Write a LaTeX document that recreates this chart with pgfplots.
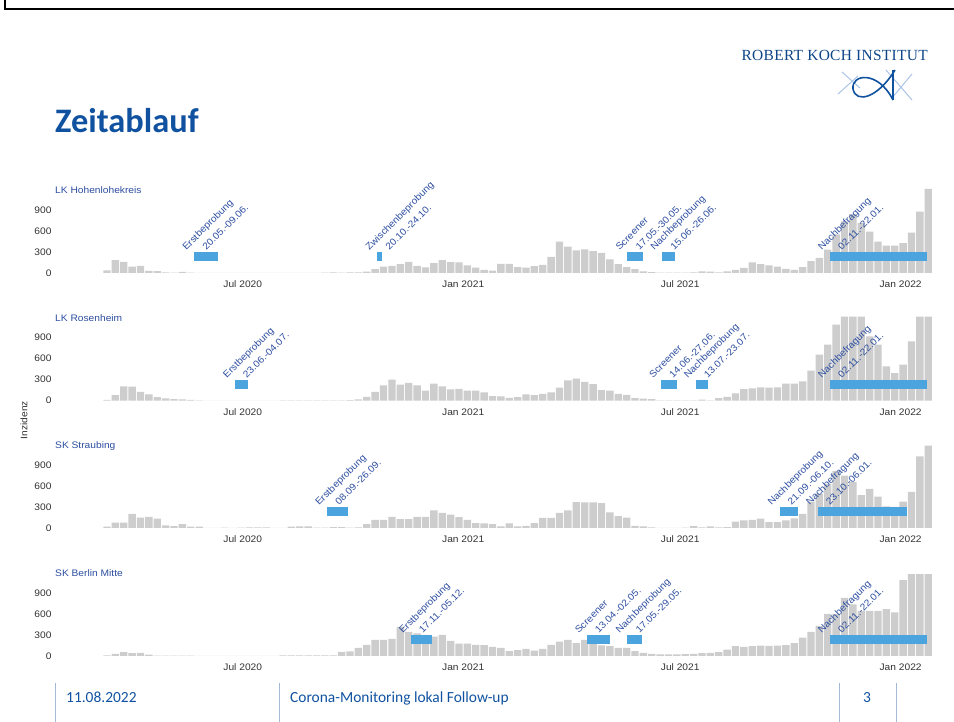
\documentclass[border=0pt]{standalone}
\usepackage{pgfplots}
\pgfplotsset{compat=1.18}
\usepackage{fontspec}
\setmainfont{Liberation Sans}
\newfontfamily\chartfont[FakeStretch=1.08]{Liberation Sans}
\newfontfamily\calibri{Carlito}
\newfontfamily\rkifont[LetterSpace=2.0]{Liberation Serif}

\definecolor{rkiblue}{RGB}{16,82,160}
\definecolor{labblue}{RGB}{45,78,160}
\definecolor{barc}{RGB}{205,205,205}
\definecolor{boxc}{RGB}{76,164,222}
\definecolor{tickc}{RGB}{50,50,50}
\definecolor{footline}{RGB}{165,185,215}
\definecolor{logolight}{RGB}{170,195,230}

\newcommand\cf{\chartfont\fontsize{9.5}{10}\selectfont}

\pgfplotsset{panel/.style={
    scale only axis, width=885.8bp, height=84bp, anchor=origin,
    xmin=-6.2, xmax=99.5, ymin=0, ymax=1200, clip=false,
    axis line style={draw=none}, tick style={draw=none},
    ytick={0,300,600,900},
    xtick={16.2,42.5,68.4,94.7},
    xticklabels={Jul 2020,Jan 2021,Jul 2021,Jan 2022},
    ticklabel style={font=\cf, text=tickc},
    /pgf/number format/assume math mode=true,
    ybar, bar width=0.88,
  },
  bars/.style={fill=barc, draw=none},
}
\tikzset{
  lbl/.style={rotate=45, anchor=base west, inner sep=0pt, font=\cf, text=labblue},
  box/.style={fill=boxc, draw=none},
}
% two-line rotated label at the top left corner of a blue box
\newcommand\lab[3]{%
  \node[lbl] at ([xshift=-8bp,yshift=1bp]axis cs:#1,300) {#2};
  \node[lbl] at ([xshift=12bp,yshift=1bp]axis cs:#1,300) {#3};}

\begin{document}
\begin{tikzpicture}[x=1bp,y=1bp]
\path[use as bounding box] (0,0) rectangle (954,722);
\draw[line width=2bp] (5,722) -- (5,713) -- (954,713);

% header
\node[anchor=base west, inner sep=0pt, text=rkiblue,
  font=\calibri\bfseries\fontsize{34.5}{35}\selectfont] at (55,589) {Zeitablauf};
\node[anchor=base east, inner sep=0pt, text=rkiblue!85!black,
  font=\rkifont\fontsize{15.5}{16}\selectfont] at (928,661) {ROBERT KOCH INSTITUT};
\draw[logolight, line width=1bp] (838,628) -- (858,646) (842,650) -- (860,634)
  (886,652) -- (912,622) (892,624) -- (912,648);
\draw[rkiblue, line width=1.6bp] (895,652) .. controls (878,624) and (856,618) .. (853,633)
  .. controls (851,648) and (878,652) .. (893,622);
\draw[rkiblue, line width=1.2bp] (893,652) -- (893,622);

% panel 1
\begin{axis}[panel, at={(107bp,449bp)}]
\addplot[bars] coordinates {
(0,37) (1,185) (2,160) (3,92) (4,100) (5,30) (6,28) (7,10) (8,5) (9,15)
(10,5) (11,2) (12,0) (13,0) (14,0) (15,0) (16,0) (17,0) (18,0) (19,0)
(20,0) (21,3) (22,3) (23,3) (24,3) (25,3) (26,5) (27,8) (28,5) (29,8)
(30,10) (31,20) (32,55) (33,92) (34,100) (35,125) (36,160) (37,100) (38,80) (39,140)
(40,185) (41,155) (42,150) (43,110) (44,75) (45,46) (46,32) (47,130) (48,130) (49,83)
(50,78) (51,97) (52,115) (53,230) (54,448) (55,378) (56,323) (57,337) (58,314) (59,286)
(60,194) (61,125) (62,83) (63,55) (64,23) (65,14) (66,5) (67,5) (68,5) (69,5)
(70,10) (71,23) (72,20) (73,9) (74,23) (75,46) (76,74) (77,152) (78,128) (79,110)
(80,92) (81,60) (82,46) (83,83) (84,170) (85,217) (86,332) (87,553) (88,738) (89,840)
(90,715) (91,590) (92,448) (93,392) (94,392) (95,425) (96,577) (97,877) (98,1200)};
\fill[box] (axis cs:10.4,170) rectangle (axis cs:13.25,300);
\fill[box] (axis cs:32.25,170) rectangle (axis cs:32.85,300);
\fill[box] (axis cs:62.1,170) rectangle (axis cs:64.0,300);
\fill[box] (axis cs:66.25,170) rectangle (axis cs:67.8,300);
\fill[box] (axis cs:86.25,170) rectangle (axis cs:97.8,300);
\lab{10.4}{Erstbeprobung}{20.05.-09.06.}
\lab{32.25}{Zwischenbeprobung}{20.10.-24.10.}
\lab{62.1}{Screener}{17.05.-30.05.}
\lab{66.25}{Nachbeprobung}{15.06.-26.06.}
\lab{86.25}{Nachbefragung}{02.11.-22.01.}
\end{axis}

% panel 2
\begin{axis}[panel, at={(107bp,321.3bp)}]
\addplot[bars] coordinates {
(0,10) (1,78) (2,203) (3,200) (4,125) (5,92) (6,50) (7,32) (8,23) (9,18)
(10,10) (11,5) (12,0) (13,0) (14,0) (15,0) (16,0) (17,0) (18,0) (19,0)
(20,0) (21,3) (22,3) (23,3) (24,3) (25,3) (26,3) (27,5) (28,5) (29,8)
(30,18) (31,55) (32,125) (33,217) (34,300) (35,230) (36,253) (37,217) (38,143) (39,245)
(40,203) (41,162) (42,170) (43,143) (44,143) (45,118) (46,65) (47,60) (48,42) (49,51)
(50,92) (51,78) (52,97) (53,120) (54,185) (55,290) (56,314) (57,268) (58,235) (59,152)
(60,143) (61,97) (62,83) (63,37) (64,28) (65,23) (66,5) (67,5) (68,5) (69,5)
(70,5) (71,14) (72,5) (73,37) (74,55) (75,106) (76,166) (77,175) (78,190) (79,185)
(80,190) (81,245) (82,243) (83,276) (84,428) (85,657) (86,800) (87,1085) (88,1200) (89,1200)
(90,1200) (91,920) (92,800) (93,490) (94,395) (95,514) (96,848) (97,1200) (98,1200)};
\fill[box] (axis cs:15.25,170) rectangle (axis cs:16.8,300);
\fill[box] (axis cs:66.1,170) rectangle (axis cs:68.0,300);
\fill[box] (axis cs:70.25,170) rectangle (axis cs:71.7,300);
\fill[box] (axis cs:86.25,170) rectangle (axis cs:97.8,300);
\lab{15.25}{Erstbeprobung}{23.06.-04.07.}
\lab{66.1}{Screener}{14.06.-27.06.}
\lab{70.25}{Nachbeprobung}{13.07.-23.07.}
\lab{86.25}{Nachbefragung}{02.11.-22.01.}
\end{axis}

% panel 3
\begin{axis}[panel, at={(107bp,194bp)}]
\addplot[bars] coordinates {
(0,18) (1,78) (2,78) (3,203) (4,148) (5,160) (6,134) (7,37) (8,28) (9,55)
(10,18) (11,18) (12,0) (13,0) (14,5) (15,0) (16,5) (17,8) (18,8) (19,8)
(20,3) (21,3) (22,18) (23,22) (24,22) (25,5) (26,5) (27,12) (28,12) (29,5)
(30,10) (31,55) (32,115) (33,115) (34,160) (35,125) (36,125) (37,160) (38,160) (39,250)
(40,217) (41,190) (42,157) (43,115) (44,70) (45,65) (46,55) (47,23) (48,65) (49,23)
(50,32) (51,70) (52,143) (53,143) (54,217) (55,250) (56,370) (57,365) (58,365) (59,355)
(60,222) (61,170) (62,148) (63,32) (64,23) (65,8) (66,3) (67,3) (68,3) (69,5)
(70,28) (71,10) (72,23) (73,10) (74,12) (75,92) (76,110) (77,115) (78,134) (79,83)
(80,83) (81,110) (82,138) (83,203) (84,378) (85,490) (86,630) (87,815) (88,748) (89,655)
(90,470) (91,560) (92,447) (93,310) (94,300) (95,378) (96,515) (97,1023) (98,1177)};
\fill[box] (axis cs:26.25,170) rectangle (axis cs:28.8,300);
\fill[box] (axis cs:80.25,170) rectangle (axis cs:82.4,300);
\fill[box] (axis cs:84.8,170) rectangle (axis cs:95.5,300);
\lab{26.25}{Erstbeprobung}{08.09.-26.09.}
\lab{80.25}{Nachbeprobung}{21.09.-06.10.}
\lab{84.8}{Nachbefragung}{23.10.-06.01.}
\end{axis}

% panel 4
\begin{axis}[panel, at={(107bp,66bp)}]
\addplot[bars] coordinates {
(0,9) (1,32) (2,55) (3,42) (4,46) (5,18) (6,5) (7,5) (8,5) (9,5)
(10,5) (11,3) (12,3) (13,3) (14,3) (15,3) (16,3) (17,3) (18,3) (19,3)
(20,3) (21,8) (22,8) (23,8) (24,8) (25,8) (26,8) (27,8) (28,60) (29,65)
(30,115) (31,160) (32,230) (33,230) (34,245) (35,415) (36,346) (37,323) (38,300) (39,277)
(40,300) (41,217) (42,175) (43,175) (44,160) (45,155) (46,130) (47,115) (48,70) (49,83)
(50,100) (51,78) (52,100) (53,160) (54,207) (55,230) (56,185) (57,230) (58,175) (59,150)
(60,140) (61,115) (62,115) (63,70) (64,46) (65,32) (66,23) (67,23) (68,23) (69,28)
(70,32) (71,42) (72,46) (73,55) (74,92) (75,140) (76,130) (77,140) (78,148) (79,143)
(80,148) (81,157) (82,185) (83,263) (84,346) (85,430) (86,600) (87,600) (88,830) (89,738)
(90,645) (91,645) (92,645) (93,670) (94,622) (95,1085) (96,1170) (97,1170) (98,1170)};
\fill[box] (axis cs:36.25,170) rectangle (axis cs:38.8,300);
\fill[box] (axis cs:57.25,170) rectangle (axis cs:60.0,300);
\fill[box] (axis cs:62.1,170) rectangle (axis cs:63.8,300);
\fill[box] (axis cs:86.25,170) rectangle (axis cs:97.8,300);
\lab{36.25}{Erstbeprobung}{17.11.-05.12.}
\lab{57.25}{Screener}{13.04.-02.05.}
\lab{62.1}{Nachbeprobung}{17.05.-29.05.}
\lab{86.25}{Nachbefragung}{02.11.-22.01.}
\end{axis}

% panel titles and y label
\node[anchor=base west, inner sep=0pt, font=\cf, text=labblue] at (55,528) {LK Hohenlohekreis};
\node[anchor=base west, inner sep=0pt, font=\cf, text=labblue] at (55,400) {LK Rosenheim};
\node[anchor=base west, inner sep=0pt, font=\cf, text=labblue] at (55,273) {SK Straubing};
\node[anchor=base west, inner sep=0pt, font=\cf, text=labblue] at (55,145) {SK Berlin Mitte};
\node[rotate=90, inner sep=0pt, font=\cf, text=tickc] at (24,302) {Inzidenz};

% footer
\draw[footline, line width=0.8bp] (55,0) -- (55,39) (279,0) -- (279,39)
  (839,0) -- (839,39) (896,0) -- (896,39);
\begin{scope}[every node/.style={anchor=base west, inner sep=0pt, text=rkiblue,
    font=\calibri\fontsize{15.5}{16}\selectfont}]
\node at (66,19) {11.08.2022};
\node at (290,19) {Corona-Monitoring lokal Follow-up};
\node at (863,19) {3};
\end{scope}
\end{tikzpicture}
\end{document}
